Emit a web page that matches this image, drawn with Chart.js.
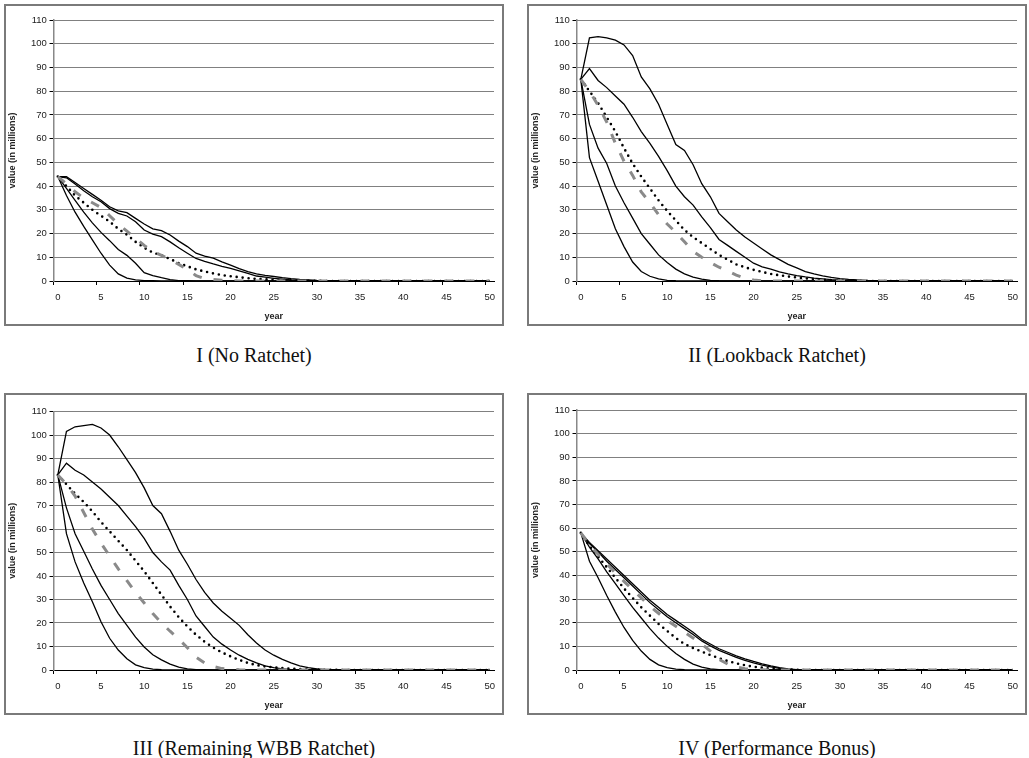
<!DOCTYPE html>
<html>
<head>
<meta charset="utf-8">
<script src="https://cdn.jsdelivr.net/npm/chart.js@4.4.1/dist/chart.umd.min.js"></script>
<style>
  body { margin: 0; background: #fff; width: 1029px; height: 758px; position: relative; overflow: hidden; }
  .panel { position: absolute; width: 500px; height: 322px; border: 2px solid #7a7a7a; box-sizing: border-box; }
  .caption { position: absolute; width: 500px; text-align: center; font: 20px "Liberation Serif", serif; color: #111; line-height: 24px; }
</style>
</head>
<body>
<div class="panel" style="left:4px;top:4px"><canvas id="chart1"></canvas></div>
<div class="panel" style="left:527px;top:4px"><canvas id="chart2"></canvas></div>
<div class="panel" style="left:4px;top:393px"><canvas id="chart3"></canvas></div>
<div class="panel" style="left:527px;top:393px"><canvas id="chart4"></canvas></div>
<div class="caption" style="left:4px;top:343px">I (No Ratchet)</div>
<div class="caption" style="left:527px;top:343px">II (Lookback Ratchet)</div>
<div class="caption" style="left:4px;top:736px">III (Remaining WBB Ratchet)</div>
<div class="caption" style="left:527px;top:736px">IV (Performance Bonus)</div>
<script>
/* ---------- DATA ---------- */
const years = ['0','1','2','3','4','5','6','7','8','9','10','11','12','13','14','15','16','17','18','19','20',
  '21','22','23','24','25','26','27','28','29','30','31','32','33','34','35','36','37','38','39','40',
  '41','42','43','44','45','46','47','48','49','50'];
const yTicks = [0, 10, 20, 30, 40, 50, 60, 70, 80, 90, 100, 110];

// I (No Ratchet)
const noRatchetMax = [44, 44, 41.5, 39, 36.5, 34, 31.3, 29.6, 28.8, 26.4, 24, 22, 21.2, 19.4, 16.8, 14.5, 11.7, 10.5, 9.6, 8.1,
  6.7, 5.2, 4, 3, 2.4, 1.9, 1.4, 1, 0.7, 0.5, 0.3, 0.2, 0.1, 0, 0, 0, 0, 0, 0, 0, 0, 0, 0, 0, 0, 0, 0, 0, 0, 0, 0];
const noRatchetHigh = [44, 43.5, 40.9, 38, 35.5, 33.4, 30.5, 28.5, 27.4, 25, 21.5, 19.8, 18.7, 16.5, 14, 11.7, 9.5, 8.3, 7.2, 6.2,
  5.3, 4.3, 3.2, 2.1, 1.6, 1.1, 0.8, 0.5, 0.3, 0.2, 0.1, 0, 0, 0, 0, 0, 0, 0, 0, 0, 0, 0, 0, 0, 0, 0, 0, 0, 0, 0, 0];
const noRatchetLow = [44, 39, 34, 29, 24.5, 20.5, 17, 13.3, 10.8, 7.5, 3.5, 2.3, 1.4, 0.6, 0.2, 0.1, 0, 0, 0, 0,
  0, 0, 0, 0, 0, 0, 0, 0, 0, 0, 0, 0, 0, 0, 0, 0, 0, 0, 0, 0, 0, 0, 0, 0, 0, 0, 0, 0, 0, 0, 0];
const noRatchetMin = [44, 36, 29, 23, 17.3, 11.7, 6.7, 3, 1.2, 0.5, 0.2, 0.1, 0, 0, 0, 0, 0, 0, 0, 0,
  0, 0, 0, 0, 0, 0, 0, 0, 0, 0, 0, 0, 0, 0, 0, 0, 0, 0, 0, 0, 0, 0, 0, 0, 0, 0, 0, 0, 0, 0, 0];
const noRatchetMean = [44, 40, 36, 33, 30, 27.5, 25, 22, 19.5, 16.5, 14, 12, 10.8, 9.3, 7.5, 6.2, 4.9, 4, 3.2, 2.5,
  2, 1.6, 1.2, 0.9, 0.7, 0.5, 0.4, 0.3, 0.2, 0.1, 0.1, 0, 0, 0, 0, 0, 0, 0, 0, 0, 0, 0, 0, 0, 0, 0, 0, 0, 0, 0, 0];
const noRatchetMedian = [44, 41, 37.6, 35, 33, 31, 27.5, 24, 21, 18, 15, 12.5, 10.8, 9, 7, 4.8, 2.3, 1, 0.6, 0.3,
  0.1, 0, 0, 0, 0, 0, 0, 0, 0, 0, 0, 0, 0, 0, 0, 0, 0, 0, 0, 0, 0, 0, 0, 0, 0, 0, 0, 0, 0, 0, 0];

// II (Lookback Ratchet)
const lookbackMax = [85, 102.5, 103, 102.5, 101.5, 99.5, 95, 86, 81, 74.5, 66, 57.5, 55, 49, 41, 35.5, 28.5, 25, 21.5, 18.5,
  16, 13.5, 11, 9, 7, 5.5, 4, 3, 2.2, 1.5, 1, 0.7, 0.5, 0.3, 0.2, 0.1, 0, 0, 0, 0, 0, 0, 0, 0, 0, 0, 0, 0, 0, 0, 0];
const lookbackHigh = [85, 89.5, 84.5, 81.5, 78, 74.5, 69, 63, 58, 52.5, 46.5, 40, 35.5, 32, 27, 22.5, 17.5, 15, 12.5, 10,
  7.5, 6, 5, 3.8, 3, 2.3, 1.7, 1.2, 0.9, 0.6, 0.4, 0.3, 0.2, 0.1, 0, 0, 0, 0, 0, 0, 0, 0, 0, 0, 0, 0, 0, 0, 0, 0, 0];
const lookbackLow = [85, 66, 56, 49.5, 40, 33, 26.5, 20, 15.5, 11, 7.8, 5, 3, 1.6, 0.8, 0.3, 0.1, 0, 0, 0,
  0, 0, 0, 0, 0, 0, 0, 0, 0, 0, 0, 0, 0, 0, 0, 0, 0, 0, 0, 0, 0, 0, 0, 0, 0, 0, 0, 0, 0, 0, 0];
const lookbackMin = [85, 52, 42, 32, 22, 14.5, 8, 4, 2, 0.9, 0.3, 0.1, 0, 0, 0, 0, 0, 0, 0, 0,
  0, 0, 0, 0, 0, 0, 0, 0, 0, 0, 0, 0, 0, 0, 0, 0, 0, 0, 0, 0, 0, 0, 0, 0, 0, 0, 0, 0, 0, 0, 0];
const lookbackMean = [85, 80, 75, 69, 63, 56, 49.5, 44, 39, 34, 29.5, 25.5, 21.5, 18.5, 16, 13.5, 11, 9, 7, 5.8,
  4.7, 3.8, 3, 2.4, 1.9, 1.5, 1.1, 0.8, 0.6, 0.4, 0.3, 0.2, 0.1, 0.1, 0, 0, 0, 0, 0, 0, 0, 0, 0, 0, 0, 0, 0, 0, 0, 0, 0];
const lookbackMedian = [85, 80, 74, 67, 58, 50.5, 44.5, 37.5, 33, 28, 24, 20.5, 16.5, 12.5, 10, 7.8, 5.8, 4.2, 2.5, 1.2,
  0.4, 0.1, 0, 0, 0, 0, 0, 0, 0, 0, 0, 0, 0, 0, 0, 0, 0, 0, 0, 0, 0, 0, 0, 0, 0, 0, 0, 0, 0, 0, 0];

// III (Remaining WBB Ratchet)
const remainingMax = [83, 101.5, 103.5, 104, 104.5, 103, 100, 95, 89.5, 84, 77.5, 70, 66.5, 59, 51, 45, 38.5, 33, 28.5, 25,
  22, 19, 15, 11.5, 8.5, 6.3, 4.5, 3, 1.8, 1, 0.5, 0.2, 0.1, 0, 0, 0, 0, 0, 0, 0, 0, 0, 0, 0, 0, 0, 0, 0, 0, 0, 0];
const remainingHigh = [83, 88, 85, 83, 80, 77, 73.5, 70, 65.5, 61, 56, 50, 46, 42.5, 36, 30, 23, 18.5, 14, 11,
  8.5, 6.3, 4.5, 3, 1.8, 1, 0.5, 0.2, 0.1, 0, 0, 0, 0, 0, 0, 0, 0, 0, 0, 0, 0, 0, 0, 0, 0, 0, 0, 0, 0, 0, 0];
const remainingLow = [83, 69, 58, 50.5, 43, 36, 30, 24, 19, 14, 9.8, 6.5, 4.3, 2.5, 1.2, 0.5, 0.2, 0.1, 0, 0,
  0, 0, 0, 0, 0, 0, 0, 0, 0, 0, 0, 0, 0, 0, 0, 0, 0, 0, 0, 0, 0, 0, 0, 0, 0, 0, 0, 0, 0, 0, 0];
const remainingMin = [83, 58, 46, 37, 29, 20.5, 13.5, 8.5, 4.8, 2.2, 1, 0.4, 0.1, 0, 0, 0, 0, 0, 0, 0,
  0, 0, 0, 0, 0, 0, 0, 0, 0, 0, 0, 0, 0, 0, 0, 0, 0, 0, 0, 0, 0, 0, 0, 0, 0, 0, 0, 0, 0, 0, 0];
const remainingMean = [83, 79, 75, 71.5, 67.5, 63, 59, 55, 51, 46.5, 42, 37, 32, 27, 22.5, 18.5, 15, 12, 9.5, 7.5,
  5.8, 4.3, 3, 2.1, 1.5, 1.1, 0.8, 0.6, 0.4, 0.3, 0.2, 0.1, 0.1, 0, 0, 0, 0, 0, 0, 0, 0, 0, 0, 0, 0, 0, 0, 0, 0, 0, 0];
const remainingMedian = [83, 79, 74, 67, 60, 54, 48.5, 43, 38, 33, 28.5, 24, 20, 16.5, 13.2, 9.5, 5.5, 3, 1.5, 0.6,
  0.3, 0.1, 0, 0, 0, 0, 0, 0, 0, 0, 0, 0, 0, 0, 0, 0, 0, 0, 0, 0, 0, 0, 0, 0, 0, 0, 0, 0, 0, 0, 0];

// IV (Performance Bonus)
const bonusMax = [58, 54, 50.5, 47, 43.5, 40, 36.5, 33, 29.5, 26.5, 23.5, 21, 18.5, 16, 13, 11, 9, 7.5, 6, 4.7,
  3.6, 2.6, 1.7, 1, 0.5, 0.2, 0.1, 0, 0, 0, 0, 0, 0, 0, 0, 0, 0, 0, 0, 0, 0, 0, 0, 0, 0, 0, 0, 0, 0, 0, 0];
const bonusHigh = [58, 53.5, 50, 46, 42.5, 39, 35.5, 32, 28.5, 25.5, 22.5, 20, 17.5, 15, 12.3, 10.2, 8.3, 6.8, 5.3, 4.1,
  3, 2.1, 1.3, 0.7, 0.3, 0.1, 0, 0, 0, 0, 0, 0, 0, 0, 0, 0, 0, 0, 0, 0, 0, 0, 0, 0, 0, 0, 0, 0, 0, 0, 0];
const bonusLow = [58, 52, 47, 41.5, 36.5, 31.5, 26.5, 22, 17.5, 13.5, 10, 7, 4.5, 2.5, 1.2, 0.5, 0.2, 0.1, 0, 0,
  0, 0, 0, 0, 0, 0, 0, 0, 0, 0, 0, 0, 0, 0, 0, 0, 0, 0, 0, 0, 0, 0, 0, 0, 0, 0, 0, 0, 0, 0, 0];
const bonusMin = [58, 46, 39, 31.5, 24.5, 18, 12.5, 8, 4.5, 2.2, 1, 0.4, 0.1, 0, 0, 0, 0, 0, 0, 0,
  0, 0, 0, 0, 0, 0, 0, 0, 0, 0, 0, 0, 0, 0, 0, 0, 0, 0, 0, 0, 0, 0, 0, 0, 0, 0, 0, 0, 0, 0, 0];
const bonusMean = [58, 52.5, 48, 43.5, 39, 34.5, 30.5, 26.5, 23, 19.5, 16.5, 13.5, 11, 9.3, 7.8, 6.3, 5, 3.8, 2.8, 2,
  1.4, 1, 0.6, 0.4, 0.2, 0.1, 0, 0, 0, 0, 0, 0, 0, 0, 0, 0, 0, 0, 0, 0, 0, 0, 0, 0, 0, 0, 0, 0, 0, 0, 0];
const bonusMedian = [58, 53, 49, 45, 41, 37.5, 34, 30.5, 27, 24, 21, 18.5, 16, 13.5, 11, 8, 4.5, 2.5, 1.3, 0.5,
  0.2, 0.1, 0, 0, 0, 0, 0, 0, 0, 0, 0, 0, 0, 0, 0, 0, 0, 0, 0, 0, 0, 0, 0, 0, 0, 0, 0, 0, 0, 0, 0];

/* ---------- STYLES ---------- */
const tickFont = { family: "'Liberation Sans', Arial, sans-serif", size: 9.5 };
const titleFont = { family: "'Liberation Sans', Arial, sans-serif", size: 9, weight: 'bold' };

function solid(data) {
  return { data: data, borderColor: '#000', borderWidth: 1.3, pointRadius: 0, fill: false };
}
function dotted(data) {
  return { data: data, borderColor: '#000', borderWidth: 2.6, borderDash: [0, 6], borderCapStyle: 'round', pointRadius: 0, fill: false };
}
function dashed(data) {
  return { data: data, borderColor: '#8a8a8a', borderWidth: 3, borderDash: [9, 12], pointRadius: 0, fill: false };
}

/* ---------- CHARTS ---------- */
function makeChart(id, series, topPad) {
  const ctx = document.getElementById(id);
  return new Chart(ctx, {
    type: 'line',
    data: {
      labels: years,
      datasets: [
        dashed(series.median),
        dotted(series.mean),
        solid(series.min),
        solid(series.low),
        solid(series.high),
        solid(series.max)
      ]
    },
    options: {
      responsive: true, maintainAspectRatio: false, animation: false,
      layout: { padding: { top: topPad, right: 3.5, left: 0, bottom: 0 } },
      plugins: { legend: { display: false }, tooltip: { enabled: false } },
      elements: { line: { tension: 0 } },
      scales: {
        x: {
          type: 'category', offset: true,
          grid: {
            offset: true, drawOnChartArea: false, tickLength: 4, lineWidth: 1,
            tickColor: c => (c.index % 5 === 0 ? '#000' : 'rgba(0,0,0,0)')
          },
          border: { color: '#000', width: 1 },
          ticks: {
            autoSkip: false, maxRotation: 0, minRotation: 0, padding: 7, color: '#222', font: tickFont,
            callback: (v, i) => (i % 5 === 0 ? years[i] : '')
          },
          title: { display: true, text: 'year', color: '#222', font: titleFont, padding: { top: 0, bottom: 1.6 } },
          afterFit: s => { s.height = 43; }
        },
        y: {
          min: 0, max: 110,
          afterBuildTicks: s => { s.ticks = yTicks.map(v => ({ value: v })); },
          grid: { color: '#000', lineWidth: 1, tickLength: 4, tickColor: '#000' },
          border: { color: '#888', width: 1.5, dash: [1, 1] },
          ticks: { padding: 2.6, color: '#222', font: tickFont },
          title: { display: true, text: 'value (in millions)', color: '#222', font: titleFont, padding: { top: 1.6, bottom: 0 } },
          afterFit: s => { s.width = 47.5; }
        }
      }
    }
  });
}

makeChart('chart1', { max: noRatchetMax, high: noRatchetHigh, low: noRatchetLow, min: noRatchetMin, mean: noRatchetMean, median: noRatchetMedian }, 14);
makeChart('chart2', { max: lookbackMax, high: lookbackHigh, low: lookbackLow, min: lookbackMin, mean: lookbackMean, median: lookbackMedian }, 14);
makeChart('chart3', { max: remainingMax, high: remainingHigh, low: remainingLow, min: remainingMin, mean: remainingMean, median: remainingMedian }, 16.5);
makeChart('chart4', { max: bonusMax, high: bonusHigh, low: bonusLow, min: bonusMin, mean: bonusMean, median: bonusMedian }, 15);
</script>
</body>
</html>
